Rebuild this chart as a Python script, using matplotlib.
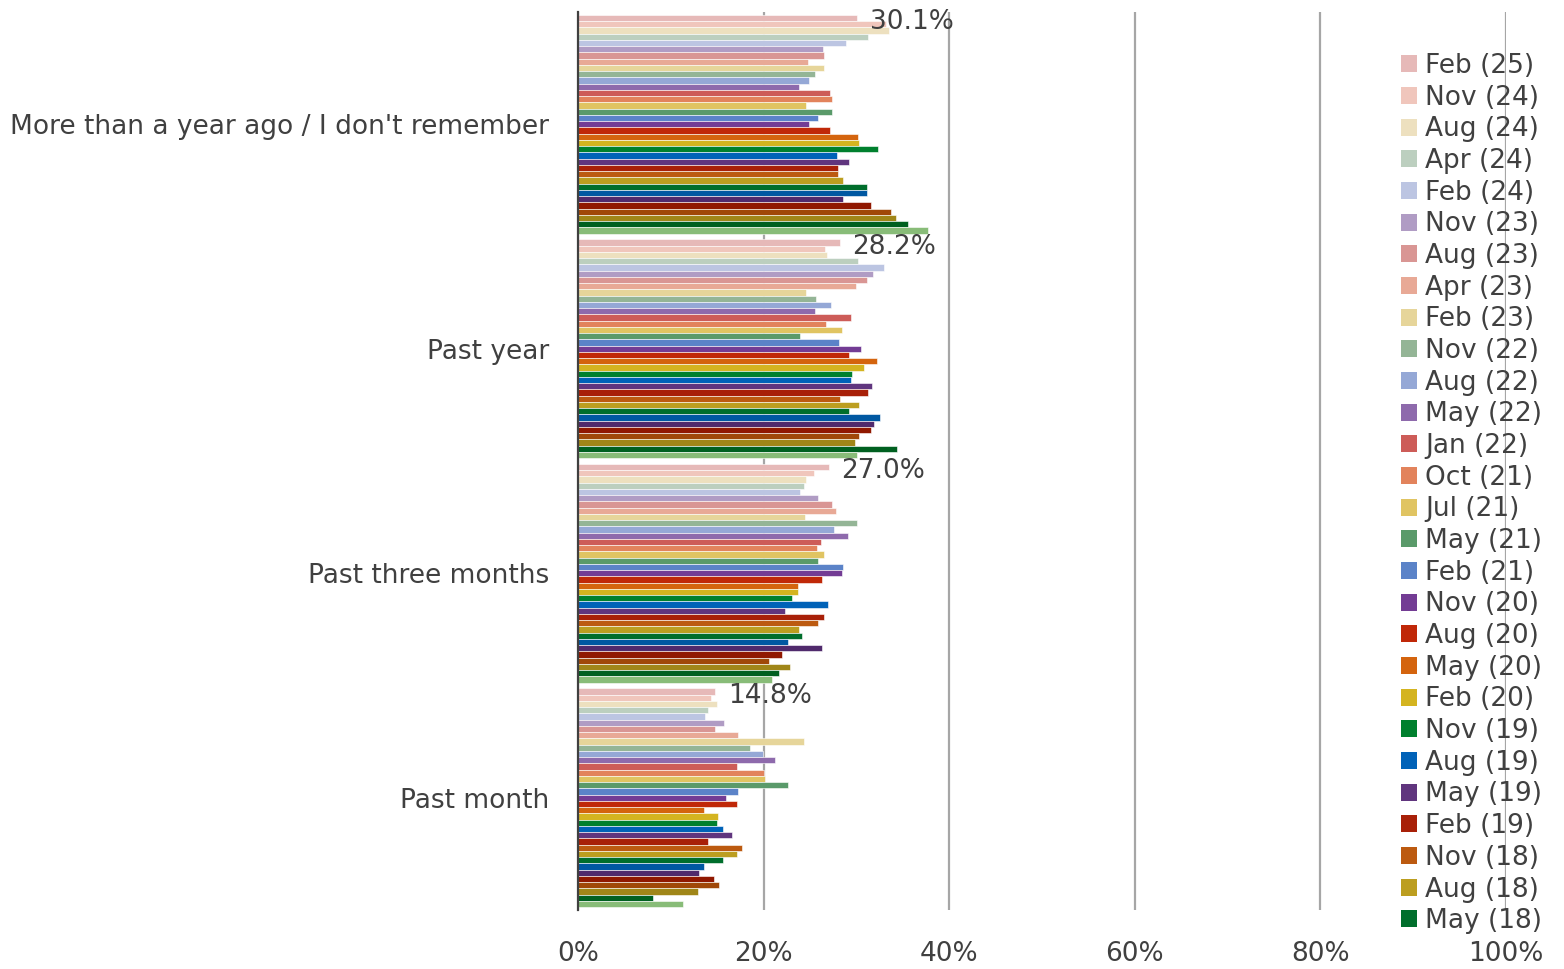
import matplotlib.pyplot as plt
import numpy as np

plt.rcParams["font.family"] = ["DejaVu Sans"]

categories = [
    "More than a year ago / I don't remember",
    "Past year",
    "Past three months",
    "Past month",
]

waves = [
    "Feb (25)", "Nov (24)", "Aug (24)", "Apr (24)", "Feb (24)", "Nov (23)",
    "Aug (23)", "Apr (23)", "Feb (23)", "Nov (22)", "Aug (22)", "May (22)",
    "Jan (22)", "Oct (21)", "Jul (21)", "May (21)", "Feb (21)", "Nov (20)",
    "Aug (20)", "May (20)", "Feb (20)", "Nov (19)", "Aug (19)", "May (19)",
    "Feb (19)", "Nov (18)", "Aug (18)", "May (18)",
    # older waves, not listed in the visible legend
    "Feb (18)", "Nov (17)", "Aug (17)", "May (17)", "Feb (17)", "Nov (16)",
    "Aug (16)",
]

colors = [
    "#e6b9b8", "#f0c6bc", "#ede0bf", "#bccfbf", "#bcc5e2", "#b09cc4",
    "#d99694", "#e8a996", "#e6d59a", "#94b596", "#95a8d6", "#8e6aac",
    "#cd5c58", "#e2835c", "#e0c462", "#5a9a6a", "#5b83c8", "#733c94",
    "#c02808", "#d4640e", "#d4b420", "#00802e", "#0062b8", "#60357e",
    "#a82008", "#bc5a10", "#bc9e20", "#006e2c",
    "#0058a2", "#502a6c", "#901800", "#a04808", "#a08618", "#006020",
    "#88bc78",
]

# percent per wave, one list per category (wave order as above)
more_than_year = [
    30.1, 33.2, 33.5, 31.3, 28.9, 26.4, 26.5, 24.8, 26.5, 25.5, 24.9, 23.8,
    27.2, 27.4, 24.6, 27.4, 25.9, 24.9, 27.2, 30.2, 30.3, 32.3, 27.9, 29.2,
    28.0, 28.0, 28.6, 31.1, 31.1, 28.6, 31.6, 33.7, 34.3, 35.6, 37.7,
]
past_year = [
    28.2, 26.6, 26.8, 30.2, 33.0, 31.8, 31.1, 30.0, 24.6, 25.6, 27.3, 25.5,
    29.4, 26.7, 28.5, 23.9, 28.1, 30.5, 29.2, 32.2, 30.8, 29.5, 29.4, 31.7,
    31.3, 28.2, 30.3, 29.2, 32.5, 31.9, 31.6, 30.3, 29.8, 34.4, 30.1,
]
past_three_months = [
    27.0, 25.4, 24.6, 24.3, 23.9, 25.9, 27.4, 27.8, 24.5, 30.1, 27.6, 29.1,
    26.2, 25.8, 26.5, 25.9, 28.6, 28.4, 26.3, 23.7, 23.7, 23.1, 26.9, 22.3,
    26.5, 25.9, 23.8, 24.1, 22.6, 26.3, 22.0, 20.6, 22.8, 21.7, 20.9,
]
past_month = [
    14.8, 14.3, 15.0, 14.0, 13.7, 15.7, 14.8, 17.2, 24.3, 18.5, 19.9, 21.2,
    17.1, 20.0, 20.1, 22.6, 17.2, 15.9, 17.1, 13.6, 15.1, 15.0, 15.6, 16.6,
    14.0, 17.7, 17.1, 15.6, 13.6, 13.0, 14.7, 15.2, 12.9, 8.1, 11.3,
]

values = np.array([more_than_year, past_year, past_three_months, past_month])

text_color = "#404040"
fs = 19

fig = plt.figure(figsize=(15.64, 9.69), dpi=100)
ax = fig.add_axes([578 / 1564, 1 - 910 / 969, 928 / 1564, 898 / 969])

n_waves = len(waves)
group_h = 0.975
bar_h = group_h / n_waves
y_base = np.arange(len(categories))

bars = []
for i, (wave, col) in enumerate(zip(waves, colors)):
    y = y_base - group_h / 2 + (i + 0.5) * bar_h
    b = ax.barh(y, values[:, i], height=bar_h, color=col, label=wave,
                edgecolor="white", linewidth=0.4, zorder=3)
    bars.append(b)

# value labels for the latest wave
for c, v in enumerate(values[:, 0]):
    y = y_base[c] - group_h / 2 + 0.5 * bar_h
    ax.annotate(f"{v:.1f}%", xy=(v, y), xytext=(9, -3), textcoords="offset points",
                ha="left", va="center", fontsize=fs, color=text_color, zorder=5)

ax.set_xlim(0, 100)
ax.set_ylim(len(categories) - 0.5, -0.5)
ax.set_xticks([0, 20, 40, 60, 80, 100])
ax.set_xticklabels([f"{t}%" for t in [0, 20, 40, 60, 80, 100]])
ax.set_yticks(y_base)
ax.set_yticklabels(categories)
ax.tick_params(axis="both", length=0, labelsize=fs, colors=text_color)
ax.tick_params(axis="y", pad=21)
ax.tick_params(axis="x", pad=22)

ax.grid(axis="x", color="#a6a6a6", linewidth=1.6, zorder=0)
for s in ["top", "right", "bottom"]:
    ax.spines[s].set_visible(False)
ax.spines["left"].set_color("#404040")
ax.spines["left"].set_linewidth(1.6)
ax.spines["left"].set_zorder(4)

handles = [b for b in bars[:28]]
leg = fig.legend(handles, waves[:28], loc="upper left",
                 bbox_to_anchor=(1401 / 1564, 1 - 53 / 969), frameon=False,
                 fontsize=fs, labelcolor=text_color, borderpad=0,
                 borderaxespad=0, handlelength=0.62, handleheight=0.62,
                 handletextpad=0.3, labelspacing=0.215)
for h in leg.legend_handles:
    h.set_edgecolor("none")

fig.savefig("out.png", dpi=100)
